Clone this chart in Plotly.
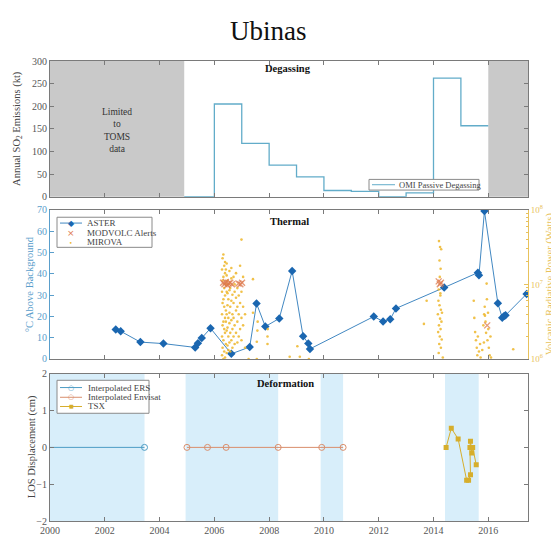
import plotly.graph_objects as go

# ---------------- data ----------------
so2_years = [2004.9, 2006, 2007, 2008, 2009, 2010, 2011, 2012, 2013, 2014, 2015, 2016]
so2_kt = [0.5, 205, 118, 70, 44, 14, 12, 0.5, 9, 262, 157, 157]

aster_years = [2002.40, 2002.58, 2003.30, 2004.14, 2005.30, 2005.40, 2005.54, 2005.86,
               2006.62, 2007.29, 2007.54, 2007.86, 2008.37, 2008.84, 2009.24, 2009.43,
               2009.49, 2011.82, 2012.16, 2012.42, 2012.63, 2014.39, 2015.62, 2015.66,
               2015.86, 2016.35, 2016.51, 2016.58, 2016.63, 2017.40]
aster_degc = [13.8, 13.0, 7.9, 7.2, 5.4, 7.4, 9.8, 14.4,
              2.4, 5.6, 26.0, 15.2, 19.0, 41.3, 10.6, 7.3,
              4.7, 19.9, 17.6, 18.6, 23.7, 33.5, 40.5, 39.3,
              69.4, 26.1, 19.3, 20.2, 20.5, 30.5]

modvolc_years = [2006.32, 2006.37, 2006.42, 2006.47, 2006.52, 2006.58, 2006.64,
                 2006.88, 2006.95, 2007.01, 2014.19, 2014.23, 2014.27, 2015.96]
modvolc_log10w = [7.02, 7.0, 7.03, 6.99, 7.01, 7.02, 7.0,
                  7.01, 7.0, 7.02, 7.04, 7.0, 7.02, 6.45]

mirova_years = [
    2006.28, 2006.28, 2006.28, 2006.28, 2006.28,
    2006.30, 2006.30, 2006.30, 2006.30, 2006.30,
    2006.33, 2006.33, 2006.33, 2006.33, 2006.33, 2006.33,
    2006.36, 2006.36, 2006.36, 2006.36, 2006.36,
    2006.39, 2006.39, 2006.39, 2006.39, 2006.39, 2006.39,
    2006.42, 2006.42, 2006.42, 2006.42, 2006.42,
    2006.45, 2006.45, 2006.45, 2006.45, 2006.45, 2006.45,
    2006.48, 2006.48, 2006.48, 2006.48, 2006.48,
    2006.51, 2006.51, 2006.51, 2006.51, 2006.51,
    2006.55, 2006.55, 2006.55, 2006.55, 2006.55,
    2006.58, 2006.58, 2006.58, 2006.58,
    2006.62, 2006.62, 2006.62, 2006.62, 2006.62,
    2006.66, 2006.66, 2006.66, 2006.66,
    2006.70, 2006.70, 2006.70, 2006.70,
    2006.74, 2006.74, 2006.74, 2006.74,
    2006.79, 2006.79, 2006.79, 2006.79,
    2006.84, 2006.84, 2006.84, 2006.84,
    2006.89, 2006.89, 2006.89,
    2006.94, 2006.94, 2006.94,
    2006.99, 2006.99, 2006.99, 2006.99,
    2007.05, 2007.05, 2007.05,
    2007.12, 2007.12, 2007.25, 2007.41, 2007.41,
    2007.55, 2007.55, 2007.57, 2007.58,
    2007.94, 2007.94, 2007.95,
    2008.75, 2009.03, 2009.12, 2009.45,
    2013.65, 2013.75,
    2014.20, 2014.24, 2014.28, 2014.22, 2014.26, 2014.23, 2014.19, 2014.25,
    2014.18, 2014.22, 2014.27, 2014.16, 2014.24, 2014.29, 2014.20, 2014.26,
    2014.17, 2014.23, 2014.30, 2014.21, 2014.27, 2014.19, 2014.34, 2014.25, 2014.31,
    2015.47, 2015.49, 2015.52, 2015.55, 2015.58, 2015.60, 2015.62, 2015.66,
    2015.70, 2015.72, 2015.78, 2015.82, 2015.85, 2015.87, 2015.90, 2015.92,
    2015.94, 2015.95, 2015.97, 2016.00, 2016.02, 2016.05, 2016.08, 2016.10,
    2015.88, 2015.84, 2015.99, 2016.91]
mirova_log10w = [
    6.05, 6.30, 6.60, 6.90, 7.20,
    6.15, 6.45, 6.75, 7.05, 7.35,
    6.00, 6.25, 6.50, 6.80, 7.10, 7.40,
    6.10, 6.40, 6.70, 6.95, 7.25,
    6.02, 6.35, 6.55, 6.85, 7.15, 7.30,
    6.20, 6.50, 6.65, 7.00, 7.20,
    6.08, 6.38, 6.60, 6.90, 7.12, 7.28,
    6.18, 6.42, 6.72, 6.88, 7.05,
    6.12, 6.30, 6.55, 6.80, 7.00,
    6.22, 6.48, 6.62, 6.92, 7.18,
    6.10, 6.35, 6.70, 6.95,
    6.25, 6.52, 6.78, 7.08, 7.22,
    6.15, 6.40, 6.60, 6.86,
    6.30, 6.55, 6.75, 7.10,
    6.20, 6.45, 6.90, 7.00,
    6.35, 6.65, 6.82, 7.15,
    6.22, 6.50, 6.70, 6.95,
    6.30, 6.60, 6.85,
    6.40, 6.75, 7.25,
    6.25, 6.55, 6.90, 7.60,
    6.45, 6.70, 7.10,
    6.15, 6.60, 6.00, 7.07, 6.62,
    6.00, 6.23, 6.38, 6.50,
    6.20, 6.30, 6.40,
    6.03, 6.17, 6.03, 6.00,
    6.47, 6.78,
    7.58, 7.50, 7.47, 7.32, 7.21, 7.10, 6.93, 6.88,
    6.78, 6.72, 6.66, 6.60, 6.54, 6.50, 6.45, 6.40,
    6.36, 6.30, 6.26, 6.20, 6.15, 6.08, 6.02, 6.85, 6.62,
    6.78, 6.55, 6.36, 6.25, 6.15, 6.05, 6.30, 6.10,
    6.20, 6.02, 6.12, 6.45, 6.60, 6.70, 6.50, 6.35,
    7.01, 6.80, 6.25, 6.40, 6.15, 6.05, 6.30, 6.02,
    6.58, 6.22, 6.62, 6.13]

ers_years = [1995.0, 2003.45]
ers_cm = [0, 0]
envisat_years = [2005.0, 2005.75, 2006.43, 2008.33, 2009.92, 2010.70]
envisat_cm = [0, 0, 0, 0, 0, 0]
tsx_years = [2014.46, 2014.65, 2014.90, 2015.21, 2015.28, 2015.35, 2015.33, 2015.35, 2015.40, 2015.43, 2015.56]
tsx_cm = [0.0, 0.52, 0.23, -0.89, -0.89, -0.74, 0.0, 0.17, -0.15, 0.0, -0.47]

gray_spans = [(2000, 2004.9), (2016, 2017.45)]
blue_spans = [(2000, 2003.45), (2004.95, 2008.33), (2009.88, 2010.7), (2014.42, 2015.65)]

x_ticks = [2000, 2002, 2004, 2006, 2008, 2010, 2012, 2014, 2016]

# ---------------- geometry (screen pixels; page body has an 8px margin) ----------------
OX, OY = 8, 8
W, H = 559 - OX, 548 - OY
PLOT_X0, PLOT_X1 = 50, 528       # plot area in screen px
PLOT_Y0, PLOT_Y1 = 61, 535
L = PLOT_X0 - OX
T = PLOT_Y0 - OY
PW = PLOT_X1 - PLOT_X0
PH = PLOT_Y1 - PLOT_Y0
R = W - L - PW
B = H - T - PH


def px(x):
    return (x - PLOT_X0) / PW


def py(y):
    return (PLOT_Y1 - y) / PH


FONT = "Liberation Serif"
GRAY = "#7a7a7a"
TXT = "#444444"
BLUE_AX = "#5a9ecb"
GOLD = "#e8c25c"

fig = go.Figure()

fig.add_trace(go.Scatter(x=so2_years, y=so2_kt, mode="lines", line_shape="hv",
                         line=dict(color="#62acc9", width=1.3), xaxis="x", yaxis="y",
                         showlegend=False))

fig.add_trace(go.Scatter(x=mirova_years, y=[10 ** v for v in mirova_log10w], mode="markers",
                         marker=dict(symbol="circle", size=2.6, color="#edb62a", opacity=0.85),
                         xaxis="x2", yaxis="y4", showlegend=False))
fig.add_trace(go.Scatter(x=modvolc_years, y=[10 ** v for v in modvolc_log10w], mode="markers",
                         marker=dict(symbol="x-thin", size=6, opacity=0.75,
                                     line=dict(color="#de7a4e", width=1.4)),
                         xaxis="x2", yaxis="y4", showlegend=False))
fig.add_trace(go.Scatter(x=aster_years, y=aster_degc, mode="lines+markers",
                         line=dict(color="#4288c2", width=1),
                         marker=dict(symbol="diamond", size=6.5, color="#1a66b0"),
                         xaxis="x2", yaxis="y2", showlegend=False))

fig.add_trace(go.Scatter(x=ers_years, y=ers_cm, mode="lines+markers",
                         line=dict(color="#4d9cc4", width=1),
                         marker=dict(symbol="circle-open", size=6, color="#4d9cc4"),
                         xaxis="x3", yaxis="y3", showlegend=False))
fig.add_trace(go.Scatter(x=envisat_years, y=envisat_cm, mode="lines+markers",
                         line=dict(color="#d98e6c", width=1),
                         marker=dict(symbol="circle-open", size=6, color="#d98e6c"),
                         xaxis="x3", yaxis="y3", showlegend=False))
fig.add_trace(go.Scatter(x=tsx_years, y=tsx_cm, mode="lines+markers",
                         line=dict(color="#d6ae2c", width=1),
                         marker=dict(symbol="square", size=5, color="#d6ae2c"),
                         xaxis="x3", yaxis="y3", showlegend=False))

shapes = []
for a, b in gray_spans:
    shapes.append(dict(type="rect", xref="x", yref="y domain", x0=a, x1=b, y0=0, y1=1,
                       fillcolor="#c9c9c9", line=dict(width=0), layer="below"))
for a, b in blue_spans:
    shapes.append(dict(type="rect", xref="x3", yref="y3 domain", x0=a, x1=b, y0=0, y1=1,
                       fillcolor="#d8eefa", line=dict(width=0), layer="below"))


def legend_box(x0, y0, x1, y1):
    shapes.append(dict(type="rect", xref="paper", yref="paper", x0=px(x0), x1=px(x1),
                       y0=py(y1), y1=py(y0), fillcolor="white",
                       line=dict(color="#8a8a8a", width=1), layer="above"))


def legend_line(x0, x1, y, color):
    shapes.append(dict(type="line", xref="paper", yref="paper", x0=px(x0), x1=px(x1),
                       y0=py(y), y1=py(y), line=dict(color=color, width=1), layer="above"))


annotations = []


def text(x, y, s, size=9.5, color=TXT, xanchor="left", angle=0, bold=False, yanchor="middle"):
    if bold:
        s = "<b>" + s + "</b>"
    annotations.append(dict(xref="paper", yref="paper", x=px(x), y=py(y), text=s,
                            showarrow=False, xanchor=xanchor, yanchor=yanchor,
                            textangle=angle, font=dict(family=FONT, size=size, color=color)))


def glyph(x, y, s, color, size=9, fam="DejaVu Sans"):
    annotations.append(dict(xref="paper", yref="paper", x=px(x), y=py(y), text=s,
                            showarrow=False, xanchor="center", yanchor="middle",
                            borderpad=0,
                            font=dict(family=fam, size=size, color=color)))


# top legend
legend_box(369, 183, 479, 194)
legend_line(372, 395, 188.5, "#62acc9")
text(397, 188.5, "OMI Passive Degassing", size=8.5)

# middle legend
legend_box(57, 222, 152, 253)
legend_line(60, 82, 228, "#4288c2")
glyph(71, 228, "◆", "#1a66b0", size=8)
text(85, 228, "ASTER", size=9)
glyph(71, 238, "×", "#de7a4e", size=9)
text(85, 238, "MODVOLC Alerts", size=9)
glyph(71, 248, "•", "#edb62a", size=6)
text(85, 248, "MIROVA", size=9)

# bottom legend
legend_box(57, 390, 149, 424)
legend_line(60, 82, 397.5, "#4d9cc4")
glyph(71, 397.5, "○", "#4d9cc4", size=7)
text(86, 397.5, "Interpolated ERS", size=9)
legend_line(60, 82, 407.5, "#d98e6c")
glyph(71, 407.5, "○", "#d98e6c", size=7)
text(86, 407.5, "Interpolated Envisat", size=9)
legend_line(60, 82, 417, "#d6ae2c")
glyph(71, 417, "■", "#d6ae2c", size=5)
text(86, 417, "TSX", size=9)

# titles
text(268, 30, "Ubinas", size=27, color="#111111", xanchor="center")
text(288, 69, "Degassing", size=10.5, color="#111111", xanchor="center", bold=True)
text(289, 226, "Thermal", size=10.5, color="#111111", xanchor="center", bold=True)
text(285, 393, "Deformation", size=10.5, color="#111111", xanchor="center", bold=True)

text(117, 133, "Limited<br>to<br>TOMS<br>data", size=9.5, color="#333333", xanchor="center")

# axis titles
text(18, 131, "Annual SO<sub>2</sub> Emissions (kt)", size=10.5, color=TXT, xanchor="center", angle=-90)
text(29, 291, "°C Above Background", size=10.5, color=BLUE_AX, xanchor="center", angle=-90)
text(550, 291, "Volcanic Radiative Power (Watts)", size=10.5, color=GOLD, xanchor="center", angle=-90)
text(32, 459, "LOS Displacement (cm)", size=10.5, color=TXT, xanchor="center", angle=-90)

tickfont = dict(family=FONT, size=10, color="#555555")
xcommon = dict(range=[2000, 2017.45], tickvals=x_ticks, ticks="inside", ticklen=4,
               tickcolor=GRAY, showline=True, linecolor=GRAY, linewidth=1, mirror="ticks",
               showgrid=False, zeroline=False, tickfont=tickfont, domain=[0, 1])

d_top = [py(201), 1]
d_mid = [py(368), py(214.3)]
d_bot = [0, py(383.3)]

fig.update_layout(
    width=W, height=H, margin=dict(l=L, r=R, t=T, b=B),
    paper_bgcolor="white", plot_bgcolor="white",
    font=dict(family=FONT),
    xaxis=dict(**xcommon, anchor="y", showticklabels=False),
    yaxis=dict(domain=d_top, range=[0, 300], dtick=50, ticks="inside", ticklen=4,
               tickcolor=GRAY, showline=True, linecolor=GRAY, mirror="ticks",
               showgrid=False, zeroline=False, tickfont=tickfont, anchor="x"),
    xaxis2=dict(**xcommon, anchor="y2", showticklabels=False),
    yaxis2=dict(domain=d_mid, range=[0, 70], dtick=10, ticks="inside", ticklen=4,
                tickcolor=BLUE_AX, showline=True, linecolor=BLUE_AX, mirror=False,
                showgrid=False, zeroline=False, anchor="x2",
                tickfont=dict(family=FONT, size=10, color=BLUE_AX)),
    yaxis4=dict(type="log", range=[6, 8], overlaying="y2", side="right", anchor="x2",
                tickvals=[1e6, 1e7, 1e8],
                ticktext=["10<sup>6</sup>", "10<sup>7</sup>", "10<sup>8</sup>"],
                ticks="inside", ticklen=4, tickcolor=GOLD, showline=True, linecolor=GOLD,
                showgrid=False, zeroline=False,
                minor=dict(ticks="inside", ticklen=2, tickcolor=GOLD,
                           tickvals=[2e6, 3e6, 4e6, 5e6, 6e6, 7e6, 8e6, 9e6,
                                     2e7, 3e7, 4e7, 5e7, 6e7, 7e7, 8e7, 9e7]),
                tickfont=dict(family=FONT, size=9, color=GOLD)),
    xaxis3=dict(**xcommon, anchor="y3", showticklabels=True),
    yaxis3=dict(domain=d_bot, range=[-2, 2], dtick=1, ticks="inside", ticklen=4,
                tickcolor=GRAY, showline=True, linecolor=GRAY, mirror="ticks",
                showgrid=False, zeroline=False, tickfont=tickfont, anchor="x3"),
    shapes=shapes,
    annotations=annotations,
)

fig.write_html("out.html")
